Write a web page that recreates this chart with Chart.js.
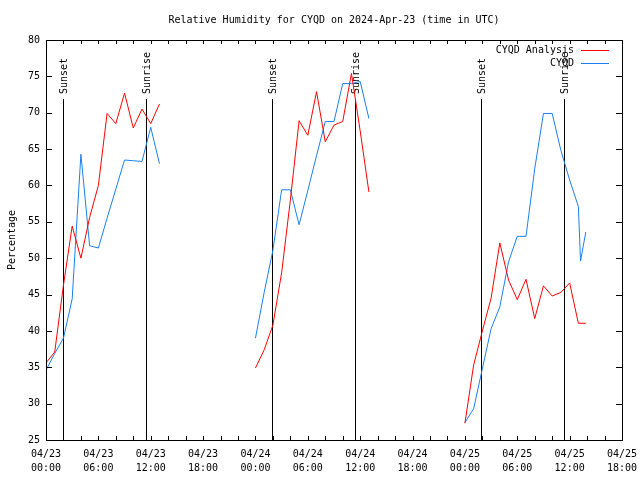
<!DOCTYPE html>
<html>
<head>
<meta charset="utf-8">
<title>Relative Humidity CYQD</title>
<script src="https://cdn.jsdelivr.net/npm/chart.js@4.4.1/dist/chart.umd.min.js"></script>
<style>
    html, body { margin: 0; padding: 0; background: #fff; }
</style>
</head>
<body>
<canvas id="rhChart" width="640" height="480"></canvas>
<script>
// hours since 2024-04-23 00:00 UTC
const day1Hours = [0, 1, 2, 3, 4, 5, 6, 7, 8, 9, 10, 11, 12, 13];
const day2Hours = [24, 25, 26, 27, 28, 29, 30, 31, 32, 33, 34, 35, 36, 37];
const day3AnalysisHours = [48, 49, 50, 51, 52, 53, 54, 55, 56, 57, 58, 59, 60, 61, 61.85];
const day3CyqdHours = [48, 49, 50, 51, 52, 53, 54, 55, 56, 57, 58, 59, 60, 61, 61.25, 61.85];

const analysisDay1 = [35.6, 37.1, 46.3, 54.4, 50.0, 55.6, 60.0, 69.9, 68.5, 72.7, 67.9, 70.5, 68.5, 71.2];
const analysisDay2 = [34.9, 37.4, 40.8, 48.0, 58.0, 68.9, 66.9, 72.9, 66.0, 68.3, 68.8, 75.4, 67.5, 59.1];
const analysisDay3 = [27.3, 35.3, 40.0, 44.5, 52.1, 47.0, 44.3, 47.1, 41.7, 46.2, 44.8, 45.3, 46.6, 41.05, 41.05];

const cyqdDay1 = [34.6, 36.9, 39.0, 44.4, 64.3, 51.7, 51.4, 55.5, 59.5, 63.5, 63.4, 63.3, 68.0, 63.0];
const cyqdDay2 = [39.0, 45.3, 51.1, 59.4, 59.4, 54.6, 59.3, 64.1, 68.8, 68.8, 74.0, 74.0, 74.3, 69.2];
const cyqdDay3 = [27.4, 29.3, 34.8, 40.3, 43.3, 49.5, 53.0, 53.0, 62.3, 69.9, 69.9, 64.8, 60.75, 57.1, 49.6, 53.6];

const xTickLabels = [
    ['04/23', '00:00'], ['04/23', '06:00'], ['04/23', '12:00'], ['04/23', '18:00'],
    ['04/24', '00:00'], ['04/24', '06:00'], ['04/24', '12:00'], ['04/24', '18:00'],
    ['04/25', '00:00'], ['04/25', '06:00'], ['04/25', '12:00'], ['04/25', '18:00']
];

const sunHours = [1.98, 11.49, 25.93, 35.44, 49.88, 59.39];
const sunLabels = ['Sunset', 'Sunrise', 'Sunset', 'Sunrise', 'Sunset', 'Sunrise'];

const FONT = '"DejaVu Sans Mono", "Liberation Mono", monospace';

function toPoints(hours, values) {
    return hours.map((h, i) => ({ x: h, y: values[i] }));
}

// null points break the line between days
function joinDays(days) {
    let out = [];
    days.forEach((d, i) => {
        if (i > 0) out.push({ x: d[0].x - 1, y: null });
        out = out.concat(d);
    });
    return out;
}

const analysisData = joinDays([
    toPoints(day1Hours, analysisDay1),
    toPoints(day2Hours, analysisDay2),
    toPoints(day3AnalysisHours, analysisDay3)
]);
const cyqdData = joinDays([
    toPoints(day1Hours, cyqdDay1),
    toPoints(day2Hours, cyqdDay2),
    toPoints(day3CyqdHours, cyqdDay3)
]);

// sunrise/sunset markers behind the data
const sunLines = {
    id: 'sunLines',
    beforeDatasetsDraw(chart) {
        const { ctx, chartArea, scales } = chart;
        ctx.save();
        ctx.strokeStyle = '#000';
        ctx.lineWidth = 1;
        ctx.fillStyle = '#000';
        ctx.font = '10px ' + FONT;
        sunHours.forEach((h, i) => {
            const x = Math.round(scales.x.getPixelForValue(h)) + 0.5;
            ctx.beginPath();
            ctx.moveTo(x, chartArea.top + 59);
            ctx.lineTo(x, chartArea.bottom);
            ctx.stroke();

            ctx.save();
            ctx.translate(x + 1, chartArea.top + 54);
            ctx.rotate(-Math.PI / 2);
            ctx.textAlign = 'left';
            ctx.textBaseline = 'middle';
            ctx.fillText(sunLabels[i], 0, 0);
            ctx.restore();
        });
        ctx.restore();
    }
};

// frame, inward ticks and the legend, gnuplot style
const frame = {
    id: 'frame',
    afterDatasetsDraw(chart) {
        const { ctx, chartArea, scales } = chart;
        const { left, right, top, bottom } = chartArea;
        ctx.save();
        ctx.strokeStyle = '#000';
        ctx.lineWidth = 1;
        ctx.strokeRect(Math.round(left) + 0.5, Math.round(top) + 0.5,
            Math.round(right - left), Math.round(bottom - top));

        ctx.beginPath();
        for (let h = scales.x.min; h <= scales.x.max; h += 2) {
            const x = Math.round(scales.x.getPixelForValue(h)) + 0.5;
            ctx.moveTo(x, bottom);
            ctx.lineTo(x, bottom - 4);
            ctx.moveTo(x, top);
            ctx.lineTo(x, top + 4);
        }
        scales.y.ticks.forEach(t => {
            const y = Math.round(scales.y.getPixelForValue(t.value)) + 0.5;
            ctx.moveTo(left, y);
            ctx.lineTo(left + 6, y);
            ctx.moveTo(right, y);
            ctx.lineTo(right - 6, y);
        });
        ctx.stroke();

        // legend
        ctx.font = '10px ' + FONT;
        ctx.fillStyle = '#000';
        ctx.textAlign = 'right';
        ctx.textBaseline = 'middle';
        chart.data.datasets.forEach((ds, i) => {
            const y = top + 10 + i * 13;
            ctx.fillText(ds.label, right - 48, y);
            ctx.strokeStyle = ds.borderColor;
            ctx.beginPath();
            ctx.moveTo(right - 41, Math.round(y) + 0.5);
            ctx.lineTo(right - 13, Math.round(y) + 0.5);
            ctx.stroke();
        });
        ctx.restore();
    }
};

const ctx = document.getElementById('rhChart').getContext('2d');
const rhChart = new Chart(ctx, {
    type: 'line',
    data: {
        datasets: [{
            label: 'CYQD Analysis',
            data: analysisData,
            borderColor: 'rgb(255, 0, 0)',
            borderWidth: 1,
            pointRadius: 0,
            spanGaps: false,
            tension: 0
        }, {
            label: 'CYQD',
            data: cyqdData,
            borderColor: 'rgb(26, 128, 240)',
            borderWidth: 1,
            pointRadius: 0,
            spanGaps: false,
            tension: 0
        }]
    },
    options: {
        responsive: false,
        animation: false,
        layout: { padding: { top: 0, right: 18, bottom: 0, left: 0 } },
        plugins: {
            legend: { display: false },
            tooltip: { enabled: false },
            title: {
                display: true,
                fullSize: false,
                text: 'Relative Humidity for CYQD on 2024-Apr-23 (time in UTC)',
                color: '#000',
                font: { family: FONT, size: 10, weight: 'normal', lineHeight: 1.2 },
                padding: { top: 14, bottom: 14 }
            }
        },
        scales: {
            x: {
                type: 'linear',
                min: 0,
                max: 66,
                grid: { display: false, drawTicks: false },
                border: { display: false },
                ticks: {
                    stepSize: 6,
                    autoSkip: false,
                    maxRotation: 0,
                    padding: 8,
                    color: '#000',
                    font: { family: FONT, size: 10, lineHeight: 1.35 },
                    callback: (value) => xTickLabels[Math.round(value / 6)]
                },
                afterFit: (scale) => {
                    scale.height = 40;
                    scale.paddingLeft = 0;
                    scale.paddingRight = 0;
                }
            },
            y: {
                min: 25,
                max: 80,
                grid: { display: false, drawTicks: false },
                border: { display: false },
                ticks: {
                    stepSize: 5,
                    padding: 6,
                    color: '#000',
                    font: { family: FONT, size: 10 }
                },
                title: {
                    display: true,
                    text: 'Percentage',
                    color: '#000',
                    font: { family: FONT, size: 10 },
                    padding: { top: 6, bottom: 0 }
                },
                afterFit: (scale) => { scale.width = 46; }
            }
        }
    },
    plugins: [sunLines, frame]
});
</script>
</body>
</html>
